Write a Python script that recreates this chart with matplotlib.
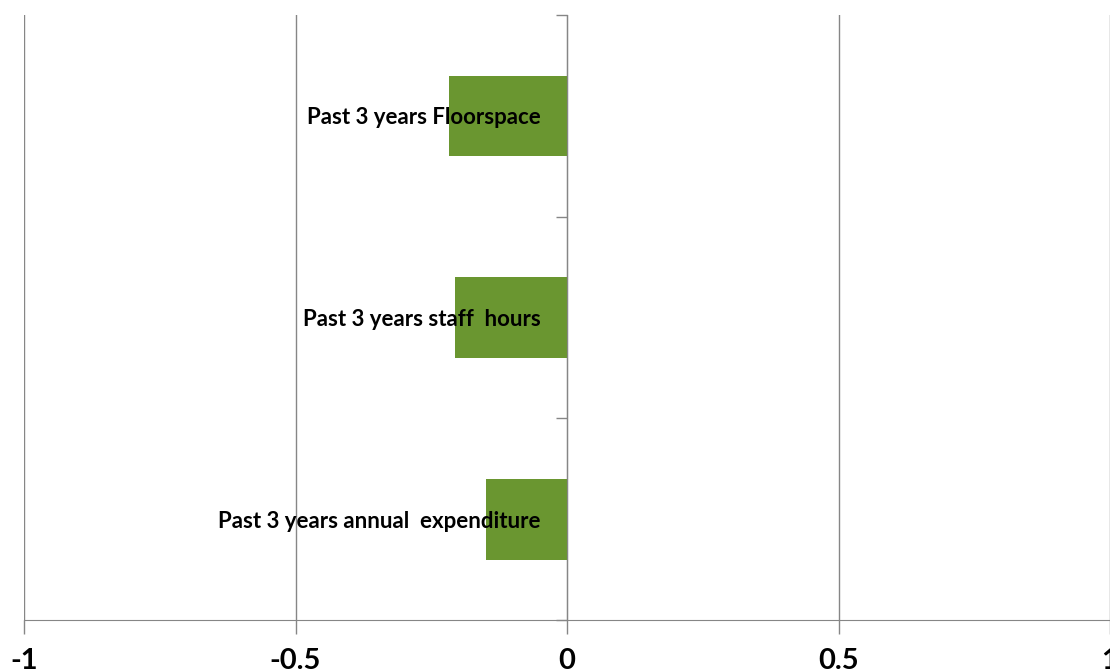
import numpy as np
import matplotlib
matplotlib.use("Agg")
import matplotlib.pyplot as plt

# categories listed bottom to top, as the chart draws them
categories = ["Past 3 years annual  expenditure",
              "Past 3 years staff  hours",
              "Past 3 years Floorspace"]
values = [-0.149, -0.206, -0.217]
xticks = [-1, -0.5, 0, 0.5, 1]
xtick_labels = ["-1", "-0.5", "0", "0.5", "1"]

plt.rcParams['font.family'] = ['Lato', 'DejaVu Sans']

fig = plt.figure(figsize=(11.1, 6.72), dpi=100)
ax = fig.add_axes([24 / 1110, 1 - 620 / 672, 1086 / 1110, 605 / 672])

grid_col = "#868686"
pos = np.arange(len(categories))
ax.barh(pos, values, height=0.4, color="#6a9630", zorder=2)

ax.set_xlim(-1, 1)
ax.set_ylim(-0.5, len(categories) - 0.5)

# x axis
ax.set_xticks(xticks)
ax.set_xticklabels(xtick_labels, fontsize=21, fontweight="bold")
ax.tick_params(axis="x", direction="out", length=10, width=1, color=grid_col, pad=10)
for x in xticks:
    ax.axvline(x, color=grid_col, linewidth=1, zorder=1)

# y axis sits at zero, labels placed next to it
ax.spines["left"].set_position(("data", 0))
ax.spines["left"].set_color(grid_col)
ax.spines["bottom"].set_color(grid_col)
ax.spines["top"].set_visible(False)
ax.spines["right"].set_visible(False)
ax.spines["left"].set_zorder(3)

ax.set_yticks(np.arange(-0.5, len(categories)), labels=[""] * (len(categories) + 1))
ax.tick_params(axis="y", which="major", direction="out", length=8, width=1, color=grid_col)
ax.set_yticks(pos, minor=True)
ax.set_yticklabels(categories, minor=True, fontsize=16, fontweight="bold")
ax.tick_params(axis="y", which="minor", length=0, pad=19)
ax.yaxis.set_zorder(5)

fig.savefig("out.png", dpi=100)
